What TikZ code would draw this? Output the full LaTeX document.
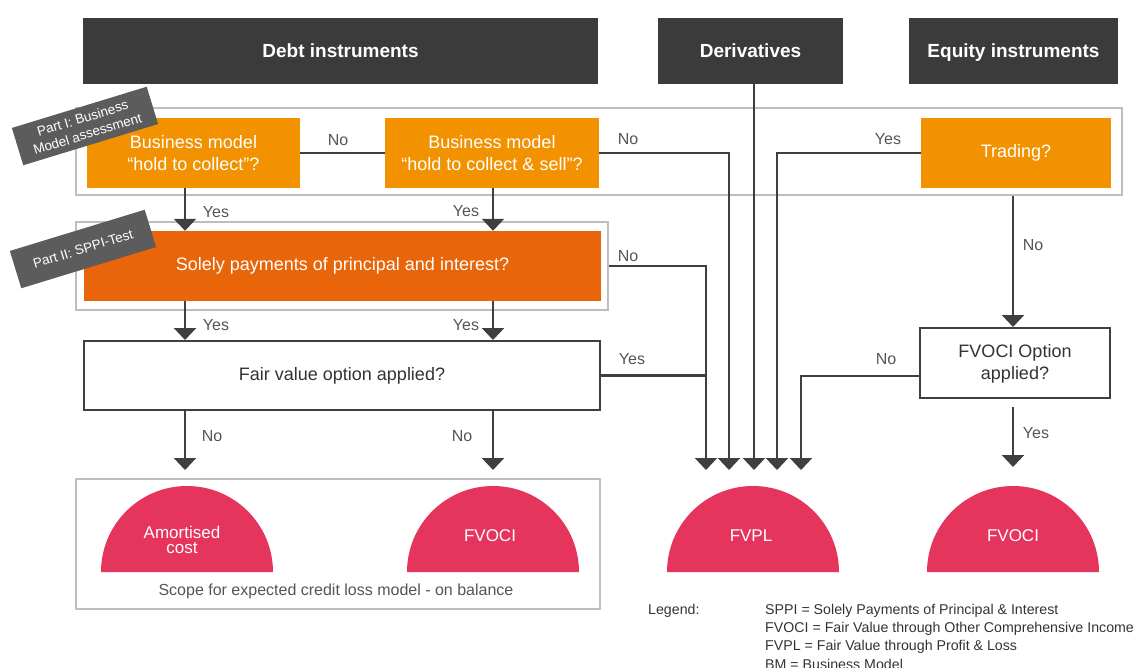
\documentclass[tikz,border=0pt]{standalone}
\usepackage{fontspec}
\setmainfont{Liberation Sans}
\usetikzlibrary{arrows.meta}
\definecolor{hdr}{HTML}{3B3B3B}
\definecolor{orng}{HTML}{F39200}
\definecolor{dorng}{HTML}{E8650A}
\definecolor{pink}{HTML}{E6355D}
\definecolor{olg}{HTML}{BEBEBE}
\definecolor{partc}{HTML}{5C5C5C}
\definecolor{lin}{HTML}{3F3F3F}
\definecolor{txt}{HTML}{333333}
\definecolor{lbltxt}{HTML}{555555}
\begin{document}
\begin{tikzpicture}[x=1pt,y=1pt,
  hdrbox/.style={fill=hdr, text=white, font=\fontsize{19}{22}\selectfont\bfseries, inner sep=0, text height=13.7pt, text depth=0pt},
  orbox/.style={fill=orng, text=white, font=\fontsize{18}{22}\selectfont, align=center, inner sep=0},
  wbox/.style={draw=lin, line width=2pt, fill=white, text=txt, font=\fontsize{18}{22}\selectfont, align=center, inner sep=0},
  outl/.style={draw=olg, line width=2pt, inner sep=0},
  conn/.style={draw=lin, line width=2.5pt},
  arr/.style={conn, -{Triangle[width=22pt,length=12pt]}},
  lbl/.style={text=lbltxt, font=\fontsize{16}{18}\selectfont, inner sep=0},
  semitxt/.style={text=white, font=\fontsize{17}{15.5}\selectfont, align=center, inner sep=0},
  legtxt/.style={text=txt, font=\fontsize{14.2}{17}\selectfont, inner sep=0, anchor=base west},
  partlbl/.style={fill=partc, text=white, font=\fontsize{13.5}{15}\selectfont, align=center, rotate=17, minimum width=141pt, minimum height=39pt, inner sep=0},
]
\useasboundingbox (0,0) rectangle (1140,-668);

% coordinates
\coordinate (cL) at (185,0);
\coordinate (cR) at (493,0);
\coordinate (cT) at (1013,0);
\coordinate (endy) at (0,-470);
\coordinate (y376) at (0,-376);
\coordinate (a1) at (706,-470);
\coordinate (a2) at (729,-470);
\coordinate (a3) at (754,-470);
\coordinate (a4) at (777,-470);
\coordinate (a5) at (801,-470);
\coordinate (eq) at (1013,-467);

% headers
\node[hdrbox, minimum width=515pt, minimum height=66pt] (debt) at (340.5,-51) {Debt instruments};
\node[hdrbox, minimum width=185pt, minimum height=66pt] (deriv) at (750.5,-51) {Derivatives};
\node[hdrbox, minimum width=209pt, minimum height=66pt] (equity) at (1013.5,-51) {Equity instruments};

% outline boxes
\node[outl, minimum width=1046pt, minimum height=87pt] (part1) at (599,-151.5) {};
\node[outl, minimum width=532pt, minimum height=88pt] (part2) at (342,-266) {};
\node[outl, minimum width=524pt, minimum height=130pt] (scope) at (338,-544) {};

% decision boxes
\node[orbox, minimum width=213pt, minimum height=70pt] (bm1) at (193.5,-153) {Business model\\\textquotedblleft hold to collect\textquotedblright?};
\node[orbox, minimum width=214pt, minimum height=70pt] (bm2) at (492,-153) {Business model\\\textquotedblleft hold to collect \& sell\textquotedblright?};
\node[orbox, minimum width=190pt, minimum height=70pt] (trading) at (1016,-153) {Trading?};
\node[orbox, fill=dorng, minimum width=517pt, minimum height=70pt] (sppi) at (342.5,-266) {Solely payments of principal and interest?};
\node[wbox, minimum width=516pt, minimum height=69pt] (fvo) at (342,-375.5) {Fair value option applied?};
\node[wbox, minimum width=190pt, minimum height=70pt] (fvocibox) at (1015,-363) {\rule{0pt}{14pt}FVOCI Option\\applied?};

% result semicircles
\fill[pink] (101,-572) arc[start angle=180, end angle=0, radius=86] -- cycle;
\fill[pink] (407,-572) arc[start angle=180, end angle=0, radius=86] -- cycle;
\fill[pink] (667,-572) arc[start angle=180, end angle=0, radius=86] -- cycle;
\fill[pink] (927,-572) arc[start angle=180, end angle=0, radius=86] -- cycle;
\node[semitxt] (amort) at (182,-540) {Amortised\\cost};
\node[semitxt] (fvoci1) at (490,-536) {FVOCI};
\node[semitxt] (fvpl) at (751,-536) {FVPL};
\node[semitxt] (fvoci2) at (1013,-536) {FVOCI};
\node[text=lbltxt, font=\fontsize{16}{18}\selectfont, inner sep=0] (scopetxt) at (336,-591) {Scope for expected credit loss model - on balance};

% connectors
\draw[conn] (bm1.east) -- (bm2.west);
\draw[arr] (bm1.south -| cL) -- (sppi.north -| cL);
\draw[arr] (bm2.south -| cR) -- (sppi.north -| cR);
\draw[arr] (sppi.south -| cL) -- (fvo.north -| cL);
\draw[arr] (sppi.south -| cR) -- (fvo.north -| cR);
\draw[arr] (fvo.south -| cL) -- (cL |- endy);
\draw[arr] (fvo.south -| cR) -- (cR |- endy);
\draw[arr] (bm2.east) -| (a2);
\draw[arr] (deriv.south -| a3) -- (a3);
\draw[arr] (trading.west) -| (a4);
\draw[arr] (part2.east) -| (a1);
\draw[conn] (fvo.east) -- (fvo.east -| a1);
\draw[arr] (fvocibox.west |- y376) -| (a5);
\draw[arr] (part1.south -| cT) -- (fvocibox.north -| cT);
\draw[arr] ([yshift=-8pt]fvocibox.south -| cT) -- (eq);

% labels
\node[lbl] (l1) at (338,-140) {No};
\node[lbl] (l2) at (628,-139) {No};
\node[lbl] (l3) at (888,-139) {Yes};
\node[lbl] (l4) at (216,-212) {Yes};
\node[lbl] (l5) at (466,-211) {Yes};
\node[lbl] (l6) at (628,-256) {No};
\node[lbl] (l7) at (216,-325) {Yes};
\node[lbl] (l8) at (466,-325) {Yes};
\node[lbl] (l9) at (632,-359) {Yes};
\node[lbl] (l10) at (886,-359) {No};
\node[lbl] (l11) at (1033,-245) {No};
\node[lbl] (l12) at (1036,-433) {Yes};
\node[lbl] (l13) at (212,-436) {No};
\node[lbl] (l14) at (462,-436) {No};

% part labels
\node[partlbl] (p1) at (85,-126) {Part I: Business\\[1.5pt]Model assessment};
\node[partlbl] (p2) at (83,-249) {Part II: SPPI-Test};

% legend
\node[legtxt] (leg) at (648,-614) {Legend:};
\node[legtxt] (lg1) at (765,-614) {SPPI = Solely Payments of Principal \& Interest};
\node[legtxt] (lg2) at (765,-632) {FVOCI = Fair Value through Other Comprehensive Income};
\node[legtxt] (lg3) at (765,-650) {FVPL = Fair Value through Profit \& Loss};
\node[legtxt] (lg4) at (765,-669) {BM = Business Model};
\end{tikzpicture}
\end{document}
